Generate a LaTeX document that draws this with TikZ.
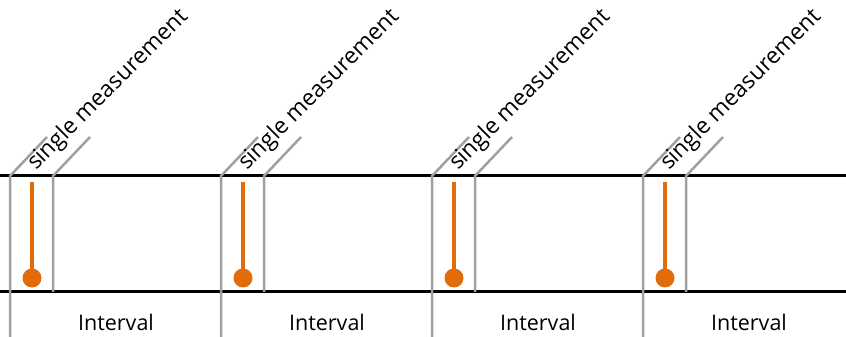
\documentclass[tikz,border=0pt]{standalone}
\usepackage{fontspec}
\setmainfont{Open Sans}
\usepackage{xcolor}
\usepackage{tikz}
\usetikzlibrary{positioning, calc}
\definecolor{tickgray}{RGB}{160,160,160}
\definecolor{probeorange}{RGB}{227,108,10}
\tikzstyle{axis} = [line width=3pt, black]
\tikzstyle{tick} = [line width=2.5pt, tickgray]
\tikzstyle{probe} = [line width=4pt, probeorange]
\tikzstyle{bulb} = [circle, fill=probeorange, minimum size=19pt, inner sep=0pt]
\tikzstyle{lbl} = [font=\fontsize{21.5}{26}\selectfont, inner sep=0pt]
\tikzstyle{slant} = [font=\fontsize{22.8}{27}\selectfont, inner sep=0pt, rotate=45, anchor=base west]

\begin{document}
\begin{tikzpicture}[x=1pt, y=1pt]
    \useasboundingbox (0,0) rectangle (846,337);
    % Zeitachse
    \coordinate (top0) at (0,161);
    \coordinate (top9) at (846,161);
    \coordinate (bot0) at (0,45);
    \coordinate (bot9) at (846,45);
    \draw[axis] (top0) -- (top9);
    \draw[axis] (bot0) -- (bot9);

    % Intervall 1
    \coordinate (a1) at (10,161);
    \coordinate (b1) at (53,161);
    \draw[tick] (10,0) -- (a1) -- ++(37,39);
    \draw[tick] (53,45) -- (b1) -- ++(37,39);
    \draw[probe] (32,155) -- (32,59) node (p1) [bulb] {};
    \node (m1) [slant] at (36,166) {single measurement};
    \node (i1) [lbl] at (116,15) {Interval};

    % Intervall 2
    \coordinate (a2) at (221,161);
    \coordinate (b2) at (264,161);
    \draw[tick] (221,0) -- (a2) -- ++(37,39);
    \draw[tick] (264,45) -- (b2) -- ++(37,39);
    \draw[probe] (243,155) -- (243,59) node (p2) [bulb] {};
    \node (m2) [slant] at (247,166) {single measurement};
    \node (i2) [lbl] at (327,15) {Interval};

    % Intervall 3
    \coordinate (a3) at (432,161);
    \coordinate (b3) at (475,161);
    \draw[tick] (432,0) -- (a3) -- ++(37,39);
    \draw[tick] (475,45) -- (b3) -- ++(37,39);
    \draw[probe] (454,155) -- (454,59) node (p3) [bulb] {};
    \node (m3) [slant] at (458,166) {single measurement};
    \node (i3) [lbl] at (538,15) {Interval};

    % Intervall 4
    \coordinate (a4) at (643,161);
    \coordinate (b4) at (686,161);
    \draw[tick] (643,0) -- (a4) -- ++(37,39);
    \draw[tick] (686,45) -- (b4) -- ++(37,39);
    \draw[probe] (665,155) -- (665,59) node (p4) [bulb] {};
    \node (m4) [slant] at (669,166) {single measurement};
    \node (i4) [lbl] at (749,15) {Interval};
\end{tikzpicture}
\end{document}
